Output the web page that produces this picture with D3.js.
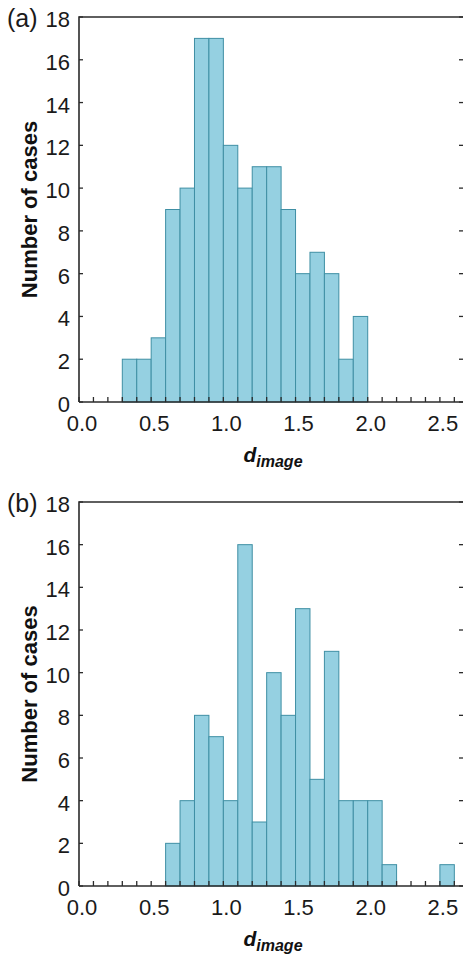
<!DOCTYPE html>
<html>
<head>
<meta charset="utf-8">
<script src="https://cdn.jsdelivr.net/npm/d3@7"></script>
<style>
  body { margin: 0; background: #fff; }
  svg { display: block; font-family: "Liberation Sans", Arial, sans-serif; }
</style>
</head>
<body>
<div id="chart"></div>
<script>
// histogram bins, 0.1 wide, given by left edge
var binStartA = [0.3, 0.4, 0.5, 0.6, 0.7, 0.8, 0.9, 1.0, 1.1, 1.2, 1.3, 1.4, 1.5, 1.6, 1.7, 1.8, 1.9];
var countsA   = [2,   2,   3,   9,   10,  17,  17,  12,  10,  11,  11,  9,   6,   7,   6,   2,   4];

var binStartB = [0.6, 0.7, 0.8, 0.9, 1.0, 1.1, 1.2, 1.3, 1.4, 1.5, 1.6, 1.7, 1.8, 1.9, 2.0, 2.1, 2.2, 2.3, 2.4, 2.5];
var countsB   = [2,   4,   8,   7,   4,   16,  3,   10,  8,   13,  5,   11,  4,   4,   4,   1,   0,   0,   0,   1];

var binWidth = 0.1;
var xTickLabels = [0.0, 0.5, 1.0, 1.5, 2.0, 2.5];
var yTickLabels = [0, 2, 4, 6, 8, 10, 12, 14, 16, 18];
var panelLabels = ["(a)", "(b)"];

var W = 463, H = 958;
var svg = d3.select("#chart").append("svg")
	.attr("width", W)
	.attr("height", H);

var barFill = "#95d0e1";
var barStroke = "#3f8fa4";
var axisColor = "#2b2b2b";

// one panel per histogram
function drawPanel(starts, counts, label, top, bottom) {
	var x = d3.scaleLinear().domain([0, 2.667]).range([79, 464]);
	var y = d3.scaleLinear().domain([0, 18]).range([bottom, top]);

	var g = svg.append("g");

	var bins = starts.map(function(s, i) { return {x0: s, x1: s + binWidth, n: counts[i]}; })
		.filter(function(d) { return d.n > 0; });

	g.selectAll(".bar")
		.data(bins)
		.enter().append("rect")
		.attr("class", "bar")
		.attr("x", function(d) { return x(d.x0); })
		.attr("y", function(d) { return y(d.n); })
		.attr("width", function(d) { return x(d.x1) - x(d.x0); })
		.attr("height", function(d) { return y(0) - y(d.n); })
		.style("fill", barFill)
		.style("stroke", barStroke)
		.style("stroke-width", 1);

	// minor x ticks every 0.1, pointing up
	var minor = d3.range(0, 27).map(function(i) { return i / 10; });
	g.selectAll(".xtick")
		.data(minor)
		.enter().append("line")
		.attr("x1", function(d) { return x(d); })
		.attr("x2", function(d) { return x(d); })
		.attr("y1", y(0))
		.attr("y2", y(0) - 5)
		.style("stroke", axisColor)
		.style("stroke-width", 1.3);

	// y ticks inward on both sides
	g.selectAll(".ytickL")
		.data(yTickLabels)
		.enter().append("line")
		.attr("x1", x(0))
		.attr("x2", x(0) + 4)
		.attr("y1", function(d) { return y(d); })
		.attr("y2", function(d) { return y(d); })
		.style("stroke", axisColor)
		.style("stroke-width", 1.3);
	g.selectAll(".ytickR")
		.data(yTickLabels)
		.enter().append("line")
		.attr("x1", x.range()[1])
		.attr("x2", x.range()[1] - 5)
		.attr("y1", function(d) { return y(d); })
		.attr("y2", function(d) { return y(d); })
		.style("stroke", axisColor)
		.style("stroke-width", 1.3);

	// frame
	g.append("path")
		.attr("d", "M" + x(0) + "," + y(0) + "H" + x.range()[1] + "M" + x(0) + "," + y(0) + "V" + y(18) + "H" + x.range()[1])
		.style("fill", "none")
		.style("stroke", axisColor)
		.style("stroke-width", 1.6);

	g.selectAll(".xlab")
		.data(xTickLabels)
		.enter().append("text")
		.attr("x", function(d) { return x(d) + 3; })
		.attr("y", y(0) + 29)
		.attr("text-anchor", "middle")
		.style("font-size", "22px")
		.style("fill", "#1a1a1a")
		.text(function(d) { return d3.format(".1f")(d); });

	g.selectAll(".ylab")
		.data(yTickLabels)
		.enter().append("text")
		.attr("x", 70)
		.attr("y", function(d) { return y(d) + 10; })
		.attr("text-anchor", "end")
		.style("font-size", "22px")
		.style("fill", "#1a1a1a")
		.text(function(d) { return d; });

	g.append("text")
		.attr("x", 7)
		.attr("y", y(18) + 10)
		.style("font-size", "25px")
		.style("fill", "#1a1a1a")
		.text(label);

	g.append("text")
		.attr("transform", "translate(37," + ((top + bottom) / 2) + ") rotate(-90)")
		.attr("text-anchor", "middle")
		.style("font-size", "22px")
		.style("font-weight", "bold")
		.style("fill", "#111")
		.text("Number of cases");

	var xl = g.append("text")
		.attr("x", 273)
		.attr("y", y(0) + 60)
		.attr("text-anchor", "middle")
		.style("font-weight", "bold")
		.style("font-style", "italic")
		.style("fill", "#111");
	xl.append("tspan").style("font-size", "21px").text("d");
	xl.append("tspan").attr("dy", 5).style("font-size", "16px").text("image");
}

drawPanel(binStartA, countsA, panelLabels[0], 17, 402);
drawPanel(binStartB, countsB, panelLabels[1], 502, 886);
</script>
</body>
</html>
